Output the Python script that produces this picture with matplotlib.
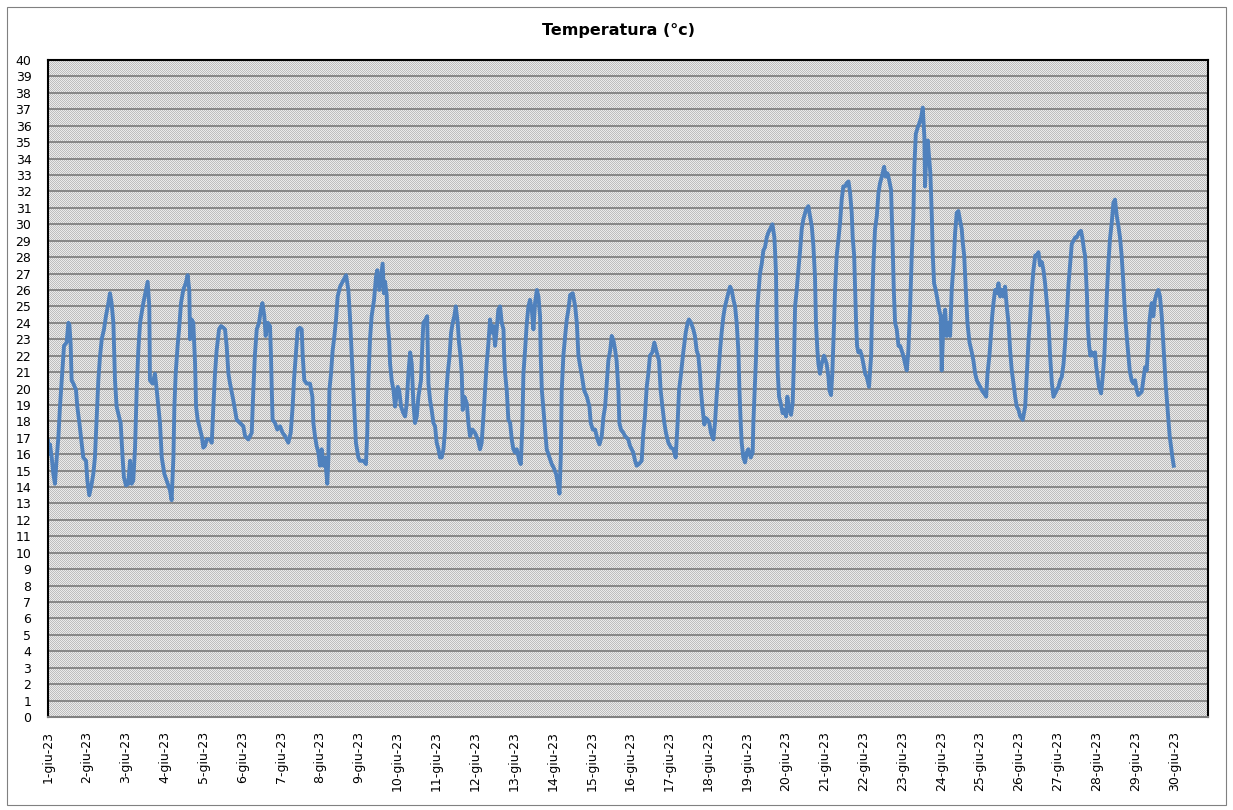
import numpy as np
import matplotlib
matplotlib.use('Agg')
import matplotlib.pyplot as plt
from matplotlib.patches import Rectangle

# ore dal 1-giu-23 00:00 e temperatura
ore = [0.0, 0.4, 1.2, 2.3, 3.3, 4.3, 5.4, 6.4, 7.4, 8.5, 9.9, 11.5, 12.6, 13.2, 14.0, 14.6, 15.7, 17.3, 18.1, 19.4,
       20.8, 21.8, 23.5, 24.3, 25.5, 27.0, 28.0, 29.0, 30.1, 31.1, 32.1, 33.2, 34.6, 35.8, 37.3, 38.3, 39.3, 40.4, 41.4, 42.4,
       44.1, 44.9, 46.1, 46.9, 48.2, 49.6, 50.7, 51.7, 52.7, 53.8, 54.8, 55.8, 56.9, 58.9, 60.6, 61.6, 62.6, 63.0, 64.7, 66.1,
       67.2, 68.2, 69.2, 70.3, 71.9, 73.3, 75.4, 76.4, 77.5, 78.1, 78.9, 80.1, 81.0, 82.2, 83.6, 85.1, 86.3, 87.3, 87.8, 88.8,
       89.8, 90.9, 91.5, 92.5, 94.0, 95.0, 96.0, 97.0, 98.1, 100.1, 101.2, 102.2, 103.2, 104.2, 105.7, 106.9, 108.4, 109.4, 110.4, 111.5,
       112.5, 114.5, 116.6, 118.7, 120.7, 121.8, 123.8, 125.9, 126.9, 127.9, 129.0, 130.4, 131.6, 132.5, 133.7, 134.5, 135.8, 137.2, 137.8, 138.2,
       138.8, 140.3, 141.7, 143.4, 145.0, 146.5, 148.5, 150.0, 151.2, 152.0, 153.3, 154.3, 155.7, 156.8, 157.4, 158.4, 159.9, 161.9, 163.4, 164.0,
       165.0, 166.0, 167.1, 168.1, 169.1, 170.2, 171.2, 172.6, 173.3, 173.9, 174.9, 175.9, 177.0, 178.0, 179.0, 180.5, 182.1, 184.2, 185.6, 186.6,
       187.7, 188.7, 189.7, 190.3, 191.8, 192.8, 194.9, 196.5, 197.3, 198.0, 199.0, 200.0, 201.5, 202.7, 203.5, 204.8, 205.8, 206.8, 207.6, 208.3,
       209.3, 209.9, 210.8, 211.4, 212.4, 213.5, 214.5, 216.1, 217.0, 218.2, 219.6, 220.7, 221.7, 222.7, 223.8, 224.8, 225.8, 226.8, 227.9, 228.9,
       230.5, 231.4, 232.0, 233.4, 234.3, 234.7, 235.1, 236.1, 237.1, 238.2, 239.2, 240.2, 241.3, 242.3, 243.3, 244.4, 245.4, 246.0, 247.0, 248.1,
       249.1, 250.1, 251.1, 252.0, 253.2, 254.0, 254.9, 255.7, 256.3, 257.3, 258.8, 259.8, 260.8, 262.3, 263.9, 265.6, 267.0, 268.0, 269.1, 270.1,
       271.1, 272.2, 273.2, 274.2, 275.3, 276.3, 277.3, 278.3, 279.4, 280.4, 281.5, 281.9, 282.5, 283.5, 284.5, 285.6, 286.6, 287.6, 288.7, 289.7,
       291.3, 292.2, 293.2, 293.8, 294.8, 295.9, 296.9, 297.9, 299.0, 300.0, 301.0, 302.1, 303.1, 304.1, 304.5, 305.2, 306.2, 307.2, 308.2, 309.9,
       311.3, 312.4, 314.0, 315.5, 316.1, 316.9, 317.5, 318.5, 319.6, 320.6, 321.6, 322.7, 324.3, 325.8, 326.8, 327.8, 328.8, 329.9, 331.3, 333.0,
       334.6, 335.4, 336.7, 338.1, 339.6, 340.8, 342.2, 343.3, 344.3, 345.3, 346.3, 347.4, 348.4, 349.5, 350.4, 351.4, 352.5, 353.1, 354.1, 355.6,
       356.6, 358.6, 359.7, 360.7, 361.7, 362.8, 363.8, 365.2, 366.9, 367.9, 368.9, 370.0, 371.0, 372.0, 373.5, 374.7, 376.2, 377.6, 378.6, 379.7,
       380.9, 381.9, 383.4, 385.0, 386.5, 387.9, 389.1, 390.0, 391.2, 392.6, 394.1, 395.3, 396.1, 397.4, 398.8, 399.8, 400.9, 401.9, 402.9, 403.5,
       404.4, 405.6, 406.6, 407.7, 408.7, 409.7, 411.2, 412.2, 413.2, 414.3, 415.3, 416.3, 417.4, 418.4, 419.4, 420.4, 421.5, 422.5, 423.6, 424.6,
       425.6, 426.7, 427.3, 428.1, 428.7, 429.7, 430.8, 431.8, 432.8, 434.3, 435.5, 435.9, 436.7, 437.6, 438.4, 439.2, 440.0, 441.1, 442.1, 443.1,
       444.2, 445.2, 446.2, 447.7, 448.9, 449.3, 449.9, 450.3, 451.0, 451.8, 452.8, 454.0, 455.1, 456.1, 456.9, 458.2, 459.2, 460.2, 461.1, 461.7,
       462.7, 463.7, 464.8, 465.8, 466.8, 468.5, 469.9, 470.9, 472.0, 473.0, 474.0, 474.6, 475.5, 476.1, 477.1, 478.1, 479.6, 481.2, 482.3, 482.9,
       483.9, 484.7, 485.8, 486.4, 487.4, 488.5, 489.5, 490.5, 491.5, 492.6, 493.6, 494.7, 495.7, 496.7, 497.3, 498.2, 498.8, 499.4, 500.0, 500.8,
       501.9, 502.9, 503.9, 505.0, 506.0, 507.4, 508.7, 509.1, 510.1, 511.1, 512.2, 513.2, 514.2, 515.3, 516.7, 517.7, 518.8, 519.8, 521.0, 521.9,
       522.7, 523.5, 524.5, 525.6, 526.6, 527.6, 528.6, 529.7, 530.7, 531.7, 532.8, 533.8, 534.8, 535.4, 536.3, 537.5, 538.3, 539.6, 540.6, 541.6,
       542.0, 542.9, 543.7, 544.5, 545.3, 546.2, 546.8, 547.6, 548.6, 549.7, 550.7, 551.7, 552.3, 553.4, 554.4, 555.4, 556.5, 557.5, 558.5, 559.6,
       560.6, 561.6, 562.6, 563.7, 564.7, 565.3, 566.2, 566.8, 567.4, 568.2, 569.5, 570.9, 571.9, 573.0, 574.0, 575.0, 576.1, 577.1, 578.5, 579.8,
       580.6, 581.8, 582.7, 583.5, 584.3, 585.3, 586.4, 587.4, 588.4, 589.5, 590.5, 591.5, 592.5, 593.6, 594.6, 595.6, 596.7, 597.7, 598.7, 599.8,
       600.8, 602.4, 603.9, 604.9, 605.9, 607.0, 608.0, 609.0, 610.1, 611.1, 612.1, 613.1, 614.2, 615.2, 616.2, 617.3, 618.3, 619.3, 620.4, 621.4,
       622.4, 623.4, 624.5, 625.5, 626.5, 627.6, 628.6, 629.6, 630.7, 631.7, 632.7, 633.8, 634.8, 635.7, 637.2, 638.4, 639.2, 640.3, 640.9, 641.5,
       642.1, 642.5, 643.4, 644.2, 645.0, 646.0, 647.1, 647.7, 648.5, 649.5, 650.8, 651.8, 652.8, 653.7, 654.5, 655.3, 656.3, 657.4, 658.4, 659.4,
       660.5, 661.5, 662.5, 663.5, 664.6, 665.2, 666.0, 666.8, 667.7, 668.5, 669.7, 670.8, 671.8, 672.8, 673.8, 674.9, 675.9, 676.9, 678.0, 679.0,
       680.0, 680.6, 681.5, 682.1, 683.1, 684.1, 685.2, 686.2, 687.2, 688.3, 689.1, 689.9, 690.7, 691.6, 692.4, 693.2, 694.0, 694.9, 695.7]

temperatura = [16.8, 16.0, 16.6, 15.8, 14.8, 14.2, 15.8, 17.0, 18.9, 20.5, 22.6, 22.8, 24.0, 23.9, 22.7, 20.5, 20.3, 19.9, 18.9, 17.9,
       16.7, 15.8, 15.6, 14.4, 13.5, 14.2, 14.8, 15.8, 18.2, 20.5, 21.9, 23.0, 23.6, 24.4, 25.2, 25.8, 25.2, 24.0, 20.5, 18.9,
       18.2, 17.9, 15.8, 14.6, 14.1, 14.2, 15.6, 14.2, 14.4, 16.4, 19.9, 22.3, 24.0, 25.2, 26.0, 26.5, 25.0, 20.5, 20.3, 20.9,
       19.9, 18.9, 17.9, 15.8, 14.8, 14.4, 13.8, 13.2, 15.8, 18.9, 20.9, 22.6, 23.6, 25.2, 26.0, 26.4, 26.9, 26.0, 23.0, 24.2,
       24.0, 21.5, 18.9, 18.1, 17.5, 17.1, 16.4, 16.5, 16.9, 16.9, 16.7, 18.9, 20.9, 22.3, 23.6, 23.8, 23.7, 23.6, 22.6, 20.9,
       20.3, 19.3, 18.1, 17.9, 17.7, 17.1, 16.9, 17.3, 19.9, 22.1, 23.6, 24.0, 24.8, 25.2, 24.4, 23.2, 24.0, 23.8, 22.0, 20.3,
       18.1, 17.9, 17.5, 17.7, 17.3, 17.1, 16.7, 17.3, 18.9, 20.5, 22.3, 23.6, 23.7, 23.6, 22.0, 20.5, 20.3, 20.3, 19.5, 17.9,
       17.1, 16.5, 16.1, 15.3, 16.3, 15.3, 15.8, 14.2, 15.8, 19.9, 20.9, 22.3, 23.2, 24.2, 25.6, 26.2, 26.5, 26.9, 26.0, 24.4,
       22.0, 19.9, 17.9, 16.7, 15.8, 15.6, 15.6, 15.4, 17.3, 20.5, 23.0, 24.4, 25.4, 26.8, 27.2, 26.0, 26.8, 27.6, 25.8, 26.5,
       25.7, 24.0, 23.0, 21.5, 20.5, 19.9, 18.9, 20.1, 19.9, 18.9, 18.5, 18.3, 19.1, 20.9, 22.2, 21.5, 19.1, 17.9, 18.3, 19.5,
       20.5, 22.8, 24.0, 24.2, 24.4, 22.2, 20.3, 19.3, 18.7, 17.9, 17.7, 16.7, 16.3, 15.8, 15.8, 16.3, 17.5, 19.5, 20.9, 21.9,
       23.4, 24.0, 24.4, 25.0, 24.0, 22.8, 22.0, 20.9, 18.7, 19.5, 19.1, 17.9, 17.1, 17.5, 17.3, 16.9, 16.3, 16.7, 18.3, 19.9,
       21.5, 22.8, 24.2, 23.4, 23.8, 22.6, 23.6, 24.8, 25.0, 24.0, 23.6, 22.0, 20.9, 19.9, 18.1, 17.9, 16.9, 16.3, 16.1, 16.3,
       15.6, 15.4, 17.9, 20.9, 22.3, 24.0, 25.0, 25.4, 24.8, 23.6, 25.2, 26.0, 25.6, 24.4, 22.0, 19.9, 18.7, 17.5, 16.3, 15.8,
       15.4, 15.2, 14.8, 14.0, 13.6, 15.8, 19.9, 22.0, 23.2, 24.2, 24.8, 25.7, 25.8, 25.0, 24.0, 22.0, 21.4, 20.8, 19.9, 19.5,
       18.9, 17.9, 17.5, 17.5, 16.9, 16.6, 17.1, 18.3, 18.9, 20.3, 21.7, 22.3, 23.2, 22.9, 22.4, 21.7, 19.9, 17.9, 17.5, 17.3,
       17.1, 16.9, 16.5, 16.3, 16.1, 15.6, 15.3, 15.4, 15.6, 17.3, 18.3, 20.1, 20.9, 22.0, 22.2, 22.8, 22.2, 21.7, 19.9, 18.9,
       17.9, 17.3, 16.7, 16.4, 16.3, 15.8, 17.9, 19.9, 20.9, 22.2, 23.4, 24.0, 24.2, 24.0, 23.6, 23.2, 22.3, 22.0, 20.9, 19.9,
       18.9, 17.8, 18.2, 18.1, 17.9, 17.3, 16.9, 17.9, 19.5, 20.9, 22.3, 23.4, 24.4, 25.0, 25.4, 25.8, 26.2, 26.0, 25.4, 25.0,
       24.0, 22.2, 19.9, 17.9, 16.7, 15.8, 15.5, 16.1, 16.3, 15.8, 16.1, 17.9, 19.9, 22.0, 25.0, 26.0, 27.0, 27.6, 28.4, 28.6,
       29.2, 29.5, 29.7, 30.0, 29.2, 28.4, 27.0, 24.0, 20.9, 19.5, 19.1, 18.5, 18.7, 18.3, 19.5, 18.7, 18.4, 19.1, 22.0, 25.0,
       26.0, 27.2, 28.4, 29.7, 30.3, 30.9, 31.1, 30.5, 29.9, 28.7, 26.8, 24.0, 22.3, 21.5, 20.9, 21.5, 22.0, 21.5, 20.7, 19.9,
       19.6, 20.9, 24.0, 26.0, 28.1, 29.1, 30.1, 31.5, 32.3, 32.3, 32.5, 32.6, 31.9, 30.7, 29.2, 28.1, 26.0, 24.0, 22.6, 22.2,
       22.3, 22.0, 21.5, 20.9, 20.7, 20.1, 22.0, 24.0, 27.6, 29.7, 30.5, 31.9, 32.5, 32.9, 33.5, 32.9, 33.1, 32.7, 32.1, 29.1,
       26.0, 24.0, 23.6, 22.6, 22.6, 22.3, 22.0, 21.5, 21.1, 22.3, 25.0, 28.1, 30.5, 33.5, 35.5, 35.9, 36.1, 36.5, 37.1, 35.3,
       32.3, 34.5, 35.1, 34.1, 33.1, 30.5, 28.1, 26.4, 26.0, 25.4, 24.8, 24.4, 21.1, 24.0, 24.8, 23.2, 24.0, 23.2, 26.0, 27.5,
       29.5, 30.7, 30.8, 30.2, 29.7, 28.9, 28.1, 26.8, 25.6, 24.0, 22.8, 22.2, 21.7, 20.9, 20.5, 20.3, 20.1, 19.9, 19.7, 19.5,
       20.9, 22.0, 23.2, 24.4, 25.2, 26.0, 25.8, 26.4, 25.6, 26.0, 25.6, 26.2, 25.0, 24.0, 22.3, 21.1, 20.3, 19.5, 18.9, 18.7,
       18.3, 18.1, 18.9, 20.9, 22.8, 24.4, 26.0, 27.2, 28.1, 28.1, 28.3, 27.5, 27.7, 27.2, 26.4, 25.2, 24.0, 22.0, 20.3, 19.5,
       19.7, 19.9, 20.1, 20.5, 20.7, 21.5, 22.8, 24.4, 26.4, 27.6, 28.8, 29.0, 29.2, 29.2, 29.5, 29.6, 29.2, 28.4, 28.1, 26.8,
       25.6, 24.0, 22.6, 22.0, 22.2, 22.0, 22.2, 21.4, 20.8, 20.1, 19.7, 20.7, 22.0, 24.0, 26.0, 27.6, 29.1, 30.1, 31.3, 31.5,
       30.5, 29.9, 29.2, 28.1, 26.4, 25.2, 24.0, 23.0, 22.0, 21.1, 20.5, 20.3, 20.5, 19.9, 19.6, 19.7, 19.8, 20.5, 21.3, 21.1,
       22.8, 24.0, 24.8, 25.2, 24.4, 25.4, 25.8, 26.0, 25.6, 24.4, 23.0, 21.5, 20.3, 19.1, 18.1, 17.1, 16.5, 15.8, 15.3]

giorni = [f'{d}-giu-23' for d in range(1, 31)]

W, H = 1233, 810
fig = plt.figure(figsize=(W / 100, H / 100), dpi=100)

# area del grafico in pixel (da sinistra / dal basso)
x0, x1, y0, y1 = 48, 1208, 93, 750
ax = fig.add_axes([x0 / W, y0 / H, (x1 - x0) / W, (y1 - y0) / H])
ax.set_facecolor('none')

# sfondo a trama fine grigia, pixel per pixel
ii, jj = np.indices((y1 - y0, x1 - x0))
chk = (ii + jj) % 2 == 0
img = np.empty((y1 - y0, x1 - x0, 3), dtype=np.uint8)
img[chk] = (190, 190, 190)
img[~chk] = (234, 234, 234)
fig.figimage(img, xo=x0, yo=y0, zorder=-1)

# cornice esterna
fig.patches.append(Rectangle((7 / W, 5 / H), 1219 / W, 798 / H, transform=fig.transFigure,
                             fill=False, edgecolor='#808080', lw=0.8))

fig.text(618 / W, 1 - 30 / H, 'Temperatura (°c)', ha='center', va='center',
         fontsize=11.5, fontweight='bold')

ax.plot(ore, temperatura, color='#4F81BD', lw=2.8, solid_joinstyle='round')

ax.set_xlim(0, 29.87 * 24)
ax.set_ylim(0, 40)
ax.set_yticks(range(41))
ax.set_xticks([24 * i for i in range(30)], labels=giorni, rotation=90)
ax.yaxis.grid(True, color='#808080', lw=1.3)
ax.set_axisbelow(True)
ax.tick_params(axis='both', length=0, labelsize=9)
ax.tick_params(axis='y', pad=12)
ax.tick_params(axis='x', pad=10)

for s in ['top', 'left', 'right']:
    ax.spines[s].set_color('black')
    ax.spines[s].set_linewidth(1.5)
ax.spines['bottom'].set_color('#808080')
ax.spines['bottom'].set_linewidth(1.5)

fig.savefig('out.png', dpi=100)
